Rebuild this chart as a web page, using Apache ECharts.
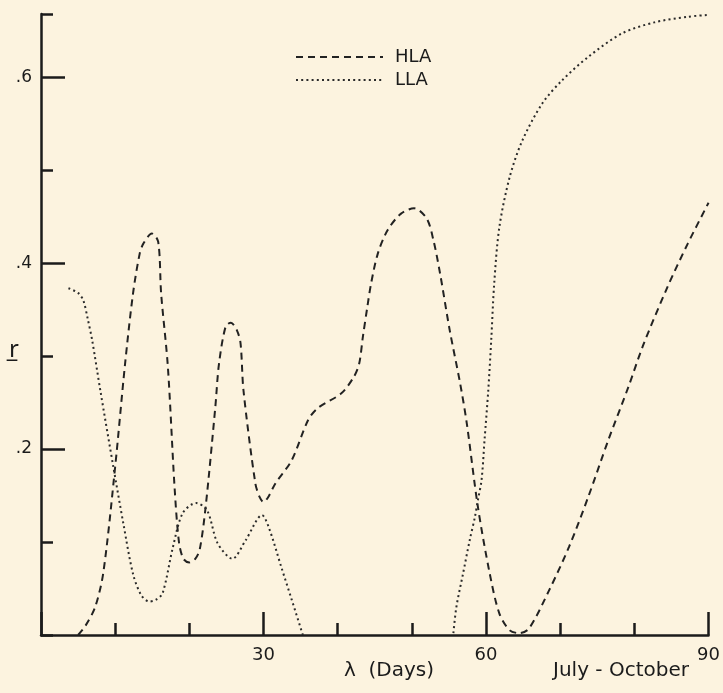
<!DOCTYPE html>
<html>
<head>
<meta charset="utf-8">
<script src="https://cdn.jsdelivr.net/npm/echarts@6/dist/echarts.min.js"></script>
<style>
html,body{margin:0;padding:0;background:#FCF3DF;}
#c{width:723px;height:693px;}
</style>
</head>
<body>
<div id="c"></div>
<script>
// ---- data ----
const hlaDays = [5.0, 6.0, 7.3, 8.4, 10.0, 11.3, 12.4, 13.3, 13.8, 14.95, 15.8, 16.2, 17.1, 18.0, 18.6, 19.2, 20.0, 20.8, 21.4, 22.2, 23.5, 24.0, 24.9, 25.6, 26.4, 26.9, 27.3, 28.9, 29.5, 30.0, 30.6, 31.6, 33.8, 36.0, 37.3, 40.5, 42.2, 42.9, 43.4, 44.0, 44.5, 45.4, 46.7, 48.5, 50.3, 52.0, 52.9, 53.8, 55.1, 56.5, 57.4, 58.9, 60.5, 61.8, 63.2, 64.5, 65.8, 68.5, 71.2, 73.8, 76.5, 79.2, 81.2, 84.5, 87.2, 90.0];
const hlaR = [0.000, 0.010, 0.030, 0.067, 0.181, 0.289, 0.367, 0.410, 0.421, 0.432, 0.423, 0.367, 0.289, 0.160, 0.100, 0.082, 0.078, 0.082, 0.092, 0.138, 0.245, 0.292, 0.332, 0.336, 0.328, 0.314, 0.263, 0.163, 0.148, 0.143, 0.148, 0.163, 0.188, 0.231, 0.244, 0.260, 0.278, 0.292, 0.321, 0.353, 0.378, 0.410, 0.435, 0.453, 0.459, 0.448, 0.425, 0.389, 0.328, 0.271, 0.228, 0.138, 0.066, 0.023, 0.005, 0.002, 0.007, 0.048, 0.095, 0.149, 0.210, 0.267, 0.312, 0.375, 0.421, 0.465];

const llaDays = [3.7, 5.0, 5.7, 6.3, 6.9, 8.0, 9.75, 11.1, 12.4, 13.5, 14.6, 15.5, 16.4, 17.8, 19.1, 20.9, 22.4, 23.8, 25.8, 27.6, 29.8, 30.7, 32.4, 33.8, 35.3, 45.0, 55.6, 56.0, 56.9, 57.8, 58.5, 58.9, 59.4, 59.8, 60.3, 60.7, 61.1, 61.8, 63.2, 64.9, 67.6, 70.3, 73.8, 78.3, 82.7, 87.2, 89.9];
const llaR = [0.373, 0.368, 0.360, 0.340, 0.317, 0.263, 0.181, 0.120, 0.066, 0.043, 0.036, 0.038, 0.045, 0.095, 0.131, 0.142, 0.134, 0.099, 0.082, 0.102, 0.129, 0.116, 0.073, 0.038, 0.000, null, 0.002, 0.030, 0.066, 0.102, 0.127, 0.145, 0.167, 0.210, 0.263, 0.317, 0.378, 0.439, 0.493, 0.532, 0.572, 0.597, 0.622, 0.647, 0.659, 0.665, 0.667];

const xLabelValues = [30, 60, 90];
const xLabelText = ['30', '60', '90'];
const yLabelValues = [0.2, 0.4, 0.6];
const yLabelText = ['.2', '.4', '.6'];
const seriesNames = ['HLA', 'LLA'];

// ---- chart ----
const ink = '#1b1b1b';
const font = 'DejaVu Sans';
const chart = echarts.init(document.getElementById('c'), null, {renderer: 'canvas'});

function labelFor(values, texts, v) {
  for (let i = 0; i < values.length; i++) {
    if (Math.abs(values[i] - v) < 1e-6) return texts[i];
  }
  return '';
}

const option = {
  backgroundColor: '#FCF3DF',
  animation: false,
  textStyle: {fontFamily: font, color: ink},
  grid: {left: 41, right: 8, top: 14, bottom: 58, containLabel: false},
  legend: {
    orient: 'vertical',
    left: 290,
    top: 43,
    itemWidth: 87,
    itemHeight: 12,
    itemGap: 5,
    data: seriesNames,
    itemStyle: {opacity: 0},
    textStyle: {fontFamily: font, fontSize: 18, color: ink, padding: [0, 0, 0, 7]}
  },
  xAxis: [
    {
      type: 'value', min: 0, max: 90, interval: 10,
      axisLine: {lineStyle: {color: ink, width: 2.5}},
      axisTick: {inside: true, length: 12, lineStyle: {color: ink, width: 2.5}},
      axisLabel: {fontFamily: font, fontSize: 18, color: ink, margin: 11,
        formatter: v => labelFor(xLabelValues, xLabelText, v)},
      splitLine: {show: false}
    },
    {
      type: 'value', min: 0, max: 90, interval: 30, position: 'bottom',
      axisLine: {show: false},
      axisTick: {inside: true, length: 23, lineStyle: {color: ink, width: 2.5}},
      axisLabel: {show: false},
      splitLine: {show: false}
    }
  ],
  yAxis: [
    {
      type: 'value', min: 0, max: 0.668, interval: 0.1,
      axisLine: {show: true, lineStyle: {color: ink, width: 2.5}},
      axisTick: {show: true, inside: true, length: 12, lineStyle: {color: ink, width: 2.5}},
      axisLabel: {fontFamily: font, fontSize: 17, color: ink, margin: 9,
        formatter: v => labelFor(yLabelValues, yLabelText, v)},
      splitLine: {show: false}
    },
    {
      type: 'value', min: 0, max: 0.668, position: 'left',
      axisLine: {show: false},
      axisTick: {show: true, inside: true, length: 24, customValues: yLabelValues,
        lineStyle: {color: ink, width: 2.5}},
      axisLabel: {show: false},
      splitLine: {show: false}
    }
  ],
  graphic: [
    {type: 'text', left: 9, top: 338, style: {text: 'r\u0332', font: '24px "Noto Sans"', fill: ink}},
    {type: 'text', left: 344, top: 661, style: {text: '\u03bb  (Days)', font: '20px "DejaVu Sans"', fill: ink}},
    {type: 'text', left: 553, top: 661, style: {text: 'July - October', font: '20px "DejaVu Sans"', fill: ink}}
  ],
  series: [
    {
      name: seriesNames[0], type: 'line', xAxisIndex: 0, yAxisIndex: 0,
      symbol: 'none', smooth: 0.3,
      lineStyle: {color: '#222', width: 2, type: [7, 5]},
      itemStyle: {color: '#222', opacity: 0},
      data: hlaDays.map((d, i) => [d, hlaR[i]])
    },
    {
      name: seriesNames[1], type: 'line', xAxisIndex: 0, yAxisIndex: 0,
      symbol: 'none', smooth: 0.3, connectNulls: false,
      lineStyle: {color: '#2a2a2a', width: 2, type: [2, 3.2]},
      itemStyle: {color: '#2a2a2a', opacity: 0},
      data: llaDays.map((d, i) => [d, llaR[i]])
    }
  ]
};
chart.setOption(option);
</script>
</body>
</html>
